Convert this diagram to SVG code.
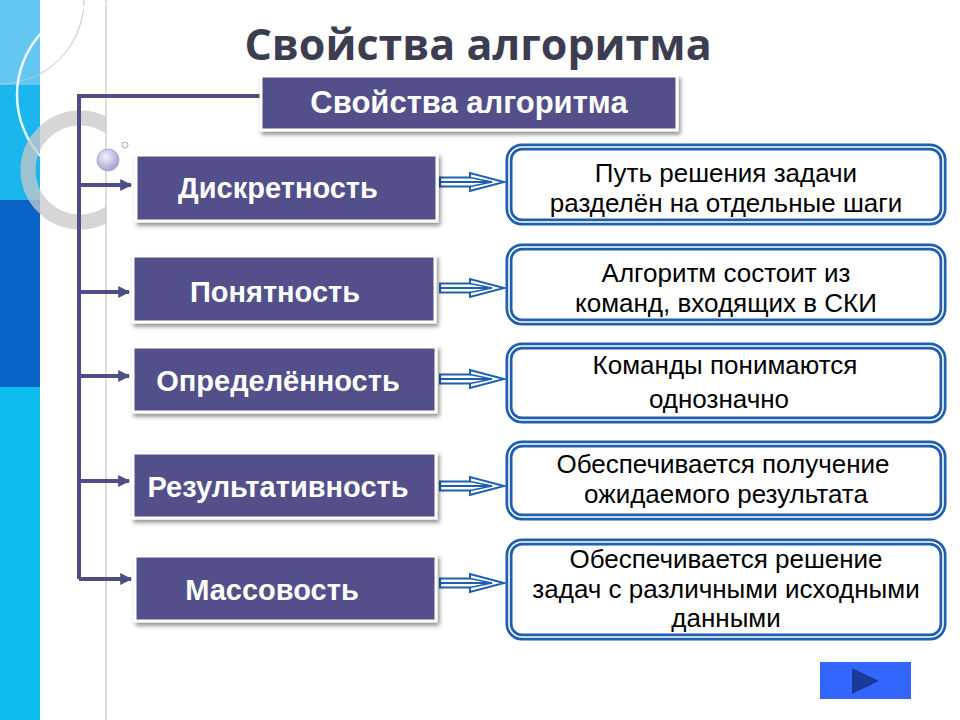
<svg xmlns="http://www.w3.org/2000/svg" width="960" height="720" viewBox="0 0 960 720">
<defs>
<style>
.lbl{font-family:"Liberation Sans",Arial,sans-serif;font-weight:bold;font-size:29px;fill:#ffffff;text-anchor:middle}
.desc{font-family:"Liberation Sans",Arial,sans-serif;font-size:26px;fill:#000000;text-anchor:middle}
.pbox{fill:#52508a;stroke:#ffffff;stroke-width:3}
.conn{stroke:#4f4e84;stroke-width:4;fill:none}
.outer{fill:#ffffff;stroke:#1f5fb2;stroke-width:7}
.gap{fill:none;stroke:#ffffff;stroke-width:1.6}
</style>
<filter id="sh" x="-10%" y="-20%" width="130%" height="150%">
<feDropShadow dx="2" dy="3" stdDeviation="2" flood-color="#000" flood-opacity="0.45"/>
</filter>
<marker id="ah" viewBox="0 0 10 10" refX="9" refY="5" markerWidth="3.5" markerHeight="3" orient="auto" markerUnits="strokeWidth">
<path d="M0,0 L10,5 L0,10 Z" fill="#4f4e84"/>
</marker>
<g id="dblarrow">
<path d="M0,-4.5 L30,-4.5 L30,-9 L64,0 L30,9 L30,4.5 L0,4.5 Z" fill="#ffffff" stroke="#1f5fb2" stroke-width="2"/>
<path d="M0,0 L52,0" stroke="#1f5fb2" stroke-width="2"/>
<path d="M30,-4.5 L52,0 L30,4.5" fill="none" stroke="#1f5fb2" stroke-width="1.4"/>
</g>
<radialGradient id="ball" cx="0.4" cy="0.35" r="0.7">
<stop offset="0" stop-color="#f2f2fb"/>
<stop offset="1" stop-color="#9c9ccf"/>
</radialGradient>
<clipPath id="leftclip"><rect x="0" y="0" width="106" height="720"/></clipPath>
</defs>

<!-- background decoration -->
<rect x="0" y="0" width="960" height="720" fill="#ffffff"/>
<rect x="0" y="0" width="40" height="85" fill="#63c7f1"/>
<rect x="0" y="85" width="40" height="115" fill="#1ab6ed"/>
<rect x="0" y="200" width="40" height="187" fill="#0a63c6"/>
<rect x="0" y="387" width="40" height="333" fill="#0dbdf0"/>
<rect x="105" y="0" width="2" height="720" fill="#dcdcdc"/>
<g clip-path="url(#leftclip)">
<circle cx="0" cy="0" r="84" fill="none" stroke="#b9c9d3" stroke-width="1"/>
<circle cx="108" cy="95" r="91" fill="none" stroke="#ffffff" stroke-width="2.5" opacity="0.9"/>
<circle cx="80" cy="170" r="52" fill="none" stroke="#c8c8c8" stroke-width="15" opacity="0.75"/>
</g>
<circle cx="108" cy="160" r="11" fill="url(#ball)" stroke="#a9a9d0" stroke-width="1"/>
<circle cx="125" cy="145" r="3" fill="#ffffff" stroke="#9a9a9a" stroke-width="0.8"/>

<!-- title -->
<text x="478" y="60" font-family="'Open Sans','DejaVu Sans',sans-serif" font-weight="bold" font-size="43" fill="#3d3d52" text-anchor="middle">Свойства алгоритма</text>

<!-- connectors -->
<g id="connectors">
<path class="conn" d="M79,579 L79,96 L262,96"/>
<line class="conn" x1="79" y1="185" x2="131" y2="185" marker-end="url(#ah)"/>
<line class="conn" x1="79" y1="292" x2="129" y2="292" marker-end="url(#ah)"/>
<line class="conn" x1="79" y1="376" x2="129" y2="376" marker-end="url(#ah)"/>
<line class="conn" x1="79" y1="481" x2="129" y2="481" marker-end="url(#ah)"/>
<line class="conn" x1="79" y1="579" x2="131" y2="579" marker-end="url(#ah)"/>
<use href="#dblarrow" x="440" y="182"/>
<use href="#dblarrow" x="440" y="288"/>
<use href="#dblarrow" x="440" y="379"/>
<use href="#dblarrow" x="440" y="486"/>
<use href="#dblarrow" x="440" y="583"/>
</g>

<!-- header node -->
<g id="header">
<rect class="pbox" x="261" y="76" width="416" height="54" filter="url(#sh)"/>
<text class="lbl" x="469" y="113" style="font-size:31px">Свойства алгоритма</text>
</g>

<!-- left nodes -->
<g id="n-diskr">
<rect class="pbox" x="136" y="155" width="301" height="66" filter="url(#sh)"/>
<text class="lbl" x="278" y="198">Дискретность</text>
</g>
<g id="n-ponyat">
<rect class="pbox" x="133" y="256" width="302" height="66" filter="url(#sh)"/>
<text class="lbl" x="275" y="302">Понятность</text>
</g>
<g id="n-opred">
<rect class="pbox" x="133" y="347" width="303" height="65" filter="url(#sh)"/>
<text class="lbl" x="278" y="391">Определённость</text>
</g>
<g id="n-result">
<rect class="pbox" x="133" y="453" width="303" height="65" filter="url(#sh)"/>
<text class="lbl" x="278" y="497">Результативность</text>
</g>
<g id="n-mass">
<rect class="pbox" x="135" y="556" width="301" height="65" filter="url(#sh)"/>
<text class="lbl" x="272" y="600">Массовость</text>
</g>

<!-- right nodes -->
<g id="d-diskr">
<rect class="outer" x="509" y="147" width="434" height="75" rx="13"/>
<rect class="gap" x="509" y="147" width="434" height="75" rx="13"/>
<text class="desc" x="726" y="182">Путь решения задачи</text>
<text class="desc" x="726" y="212">разделён на отдельные шаги</text>
</g>
<g id="d-ponyat">
<rect class="outer" x="509" y="247" width="434" height="75" rx="13"/>
<rect class="gap" x="509" y="247" width="434" height="75" rx="13"/>
<text class="desc" x="726" y="282">Алгоритм состоит из</text>
<text class="desc" x="726" y="312">команд, входящих в СКИ</text>
</g>
<g id="d-opred">
<rect class="outer" x="509" y="346" width="434" height="74" rx="13"/>
<rect class="gap" x="509" y="346" width="434" height="74" rx="13"/>
<text class="desc" x="725" y="374">Команды понимаются</text>
<text class="desc" x="719" y="408">однозначно</text>
</g>
<g id="d-result">
<rect class="outer" x="509" y="444" width="434" height="73" rx="13"/>
<rect class="gap" x="509" y="444" width="434" height="73" rx="13"/>
<text class="desc" x="723" y="473">Обеспечивается получение</text>
<text class="desc" x="726" y="503">ожидаемого результата</text>
</g>
<g id="d-mass">
<rect class="outer" x="509" y="542" width="434" height="95" rx="13"/>
<rect class="gap" x="509" y="542" width="434" height="95" rx="13"/>
<text class="desc" x="726" y="568">Обеспечивается решение</text>
<text class="desc" x="726" y="598">задач с различными исходными</text>
<text class="desc" x="726" y="627">данными</text>
</g>

<!-- nav button -->
<g id="next">
<rect x="820" y="662" width="91" height="37" fill="#3366ff"/>
<path d="M852,668 L879,681 L852,694 Z" fill="#1a3a99"/>
</g>
</svg>
